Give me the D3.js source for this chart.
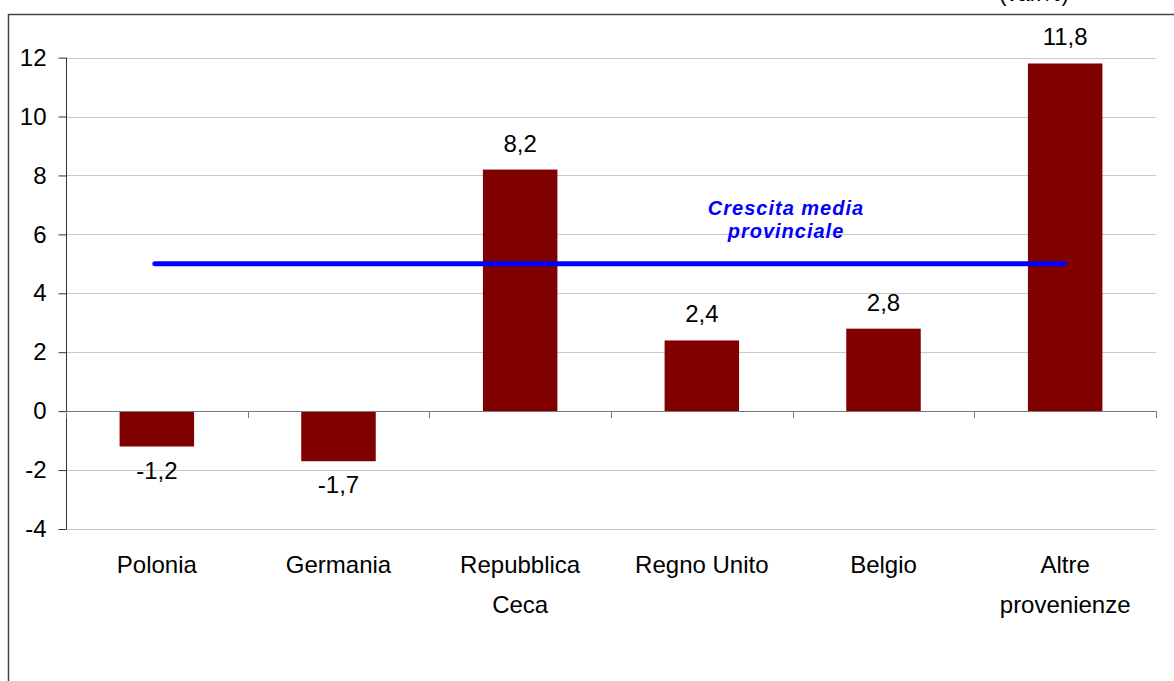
<!DOCTYPE html>
<html><head><meta charset="utf-8">
<script src="https://cdn.jsdelivr.net/npm/d3@7"></script>
<style>body{margin:0;background:#fff}svg{display:block}text{font-family:"Liberation Sans",Arial,sans-serif}</style>
</head><body><svg id="c" width="1174" height="681"></svg>
<script>
const categories = [["Polonia"],["Germania"],["Repubblica","Ceca"],["Regno Unito"],["Belgio"],["Altre","provenienze"]];
const values = [-1.2, -1.7, 8.2, 2.4, 2.8, 11.8];
const labels = ["-1,2","-1,7","8,2","2,4","2,8","11,8"];
const average = 5;
const yTicks = [-4,-2,0,2,4,6,8,10,12];
const avgLabel = ["Crescita media","provinciale"];
const unitLabel = "(var.%)";

const svg = d3.select("#c");
const L = 66, R = 1156, T = 57.6, B = 529;
const keys = categories.map(c => c.join(" "));
const x = d3.scaleBand().domain(keys).range([L, R]).paddingInner(0.59).paddingOuter(0.295);
const y = d3.scaleLinear().domain([-4, 12]).range([B, T]);

// outer frame
svg.append("path").attr("d", "M8.5,700 V14.5 H1190").attr("fill","none").attr("stroke","#444").attr("stroke-width",1.5);
svg.append("text").attr("x", 1034).attr("y", 0.5).attr("text-anchor","middle").attr("font-size",22).text(unitLabel);

// gridlines
svg.append("g").selectAll("line").data(yTicks.filter(d => d !== 0)).join("line")
  .attr("x1", L).attr("x2", R).attr("y1", d => Math.round(y(d))+0.5).attr("y2", d => Math.round(y(d))+0.5)
  .attr("stroke","#c8c8c8").attr("stroke-width",1);

// y axis
const ya = svg.append("g").attr("transform",`translate(${L+0.5},0)`)
  .call(d3.axisLeft(y).tickValues(yTicks).tickSize(8).tickPadding(12).tickFormat(d => String(d)));
ya.select(".domain").attr("stroke","#333").attr("d", `M0,${y(-4)}V${y(12)}`);
ya.selectAll(".tick line").attr("stroke","#333");
ya.selectAll(".tick text").attr("font-size",24).attr("fill","#000").attr("font-family","Liberation Sans, Arial, sans-serif");

// bars
svg.append("g").selectAll("rect").data(values).join("rect")
  .attr("x", (d,i) => x(keys[i])).attr("width", x.bandwidth())
  .attr("y", d => y(Math.max(0,d))).attr("height", d => Math.abs(y(d)-y(0)))
  .attr("fill","#800000");

// zero axis line with ticks at category boundaries
svg.append("line").attr("x1",L).attr("x2",R).attr("y1",Math.round(y(0))+0.5).attr("y2",Math.round(y(0))+0.5).attr("stroke","#777").attr("stroke-width",1.2);
const bounds = d3.range(keys.length+1).map(i => L + i*(R-L)/keys.length);
svg.append("g").selectAll("line").data(bounds).join("line")
  .attr("x1", d => Math.round(d)+0.5).attr("x2", d => Math.round(d)+0.5)
  .attr("y1", y(0)).attr("y2", y(0)+7).attr("stroke","#777");

// value labels
svg.append("g").selectAll("text").data(values).join("text")
  .attr("x", (d,i) => x(keys[i]) + x.bandwidth()/2)
  .attr("y", d => d >= 0 ? y(d) - 18 : y(d) + 32)
  .attr("text-anchor","middle").attr("font-size",24).text((d,i) => labels[i]);

// category labels
const cg = svg.append("g").selectAll("text").data(categories).join("text")
  .attr("x", (d,i) => x(keys[i]) + x.bandwidth()/2).attr("y", 573)
  .attr("text-anchor","middle").attr("font-size",24);
cg.selectAll("tspan").data(d => d).join("tspan")
  .attr("x", function(){ return this.parentNode.getAttribute("x"); })
  .attr("dy", (d,i) => i === 0 ? 0 : 40).text(d => d);

// average line
svg.append("line")
  .attr("x1", x(keys[0]) + x.bandwidth()/2 - 2).attr("x2", x(keys[5]) + x.bandwidth()/2 - 1)
  .attr("y1", y(average)).attr("y2", y(average))
  .attr("stroke","#0000ff").attr("stroke-width",5).attr("stroke-linecap","round");

svg.append("text").attr("x", 786).attr("y", 215).attr("text-anchor","middle")
  .attr("font-size",20).attr("font-weight","bold").attr("font-style","italic").attr("fill","#0000ff").attr("letter-spacing",1)
  .selectAll("tspan").data(avgLabel).join("tspan").attr("x",786).attr("dy",(d,i)=> i? 23:0).text(d=>d);
</script></body></html>
